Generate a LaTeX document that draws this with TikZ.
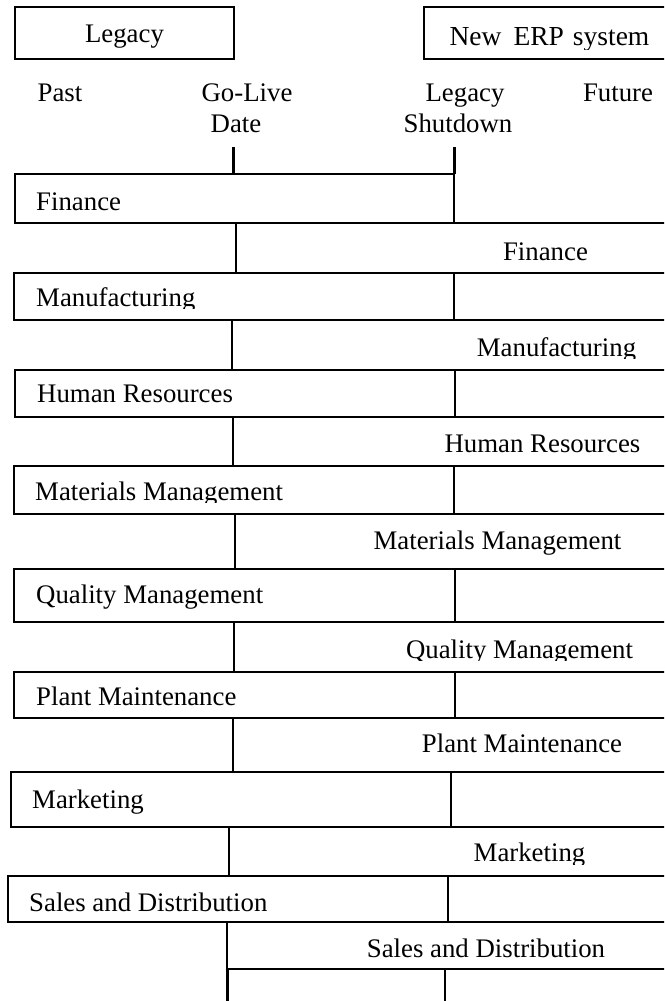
\documentclass[tikz,border=0pt]{standalone}
\usepackage{fontspec}
\setmainfont{Liberation Serif}
\begin{document}
\begin{tikzpicture}[x=1pt,y=-1pt,
  box/.style={draw=black,line width=1.4pt},
  tickline/.style={draw=black,line width=3pt},
  golive/.style={draw=black,line width=2.6pt},
  shut/.style={draw=black,line width=1.7pt},
  txt/.style={inner sep=0pt,font=\fontsize{26.8}{31}\selectfont},
  lt/.style={txt,anchor=base west},
  ct/.style={txt,anchor=base}]
\useasboundingbox (0,0) rectangle (664,1001);
\clip (0,0) rectangle (664,1001);

% headers
\draw[box] (15,7) rectangle (234,59);
\node[ct] (hdrL) at (124.5,42.5) {Legacy};
\draw[box] (680,7) -- (424,7) -- (424,59) -- (680,59);
\begin{scope}
  \clip (0,0) rectangle (664,49);
  \node[ct,font=\fontsize{27.5}{31}\selectfont] (hdrN) at (549.5,45.5) {New\hspace{12pt}ERP\hspace{9pt}system};
\end{scope}

% time labels
\node[ct] (past) at (60,101) {Past};
\node[ct] (gl1) at (247,101) {Go-Live};
\node[ct] (gl2) at (236,132) {Date};
\node[ct] (ls1) at (465,101) {Legacy};
\node[ct] (ls2) at (458,132) {Shutdown};
\node[ct] (future) at (618,101) {Future};

% rows
\foreach \lt/\lb/\lx/\rx/\nb/\gx in {
 174/223/15/454/273/236,
 273/320/14/454/370/232,
 370/417/15/455/466/233,
 466/514/14/454/569/235,
 569/622/14/455/672/234,
 672/718/14/455/772/233,
 772/827/11/451/876/229,
 876/922/8/448/969/227}
{
  \draw[box] (\rx,\lt) -- (\lx,\lt) -- (\lx,\lb) -- (\rx,\lb);
  \draw[box] (\gx,\lb) -- (680,\lb);
  \draw[box] (\gx,\nb) -- (680,\nb);
  \draw[shut] (\rx,\lt) -- (\rx,\lb);
  \draw[golive] (\gx,\lb) -- (\gx,\nb);
}

% ticks
\coordinate (t1a) at (233,147); \coordinate (t1b) at (233,174);
\coordinate (t2a) at (454,147); \coordinate (t2b) at (454,174);
\coordinate (b1a) at (227,969); \coordinate (b1b) at (227,1001);
\coordinate (b2a) at (445,969); \coordinate (b2b) at (445,1001);
\draw[tickline] (t1a) -- (t1b);
\draw[tickline] (t2a) -- (t2b);
\draw[tickline] (b1a) -- (b1b);
\draw[shut] (b2a) -- (b2b);

% row labels: legacy
\node[lt] (L1) at (36,210.5) {Finance};
\begin{scope}
  \clip (0,0) rectangle (664,308.5);
  \node[lt] (L2) at (36,306.5) {Manufacturing};
\end{scope}
\node[lt] (L3) at (37,402.5) {Human Resources};
\begin{scope}
  \clip (0,0) rectangle (664,502);
  \node[lt] (L4) at (35,500) {Materials Management};
\end{scope}
\node[lt] (L5) at (36,603) {Quality Management};
\node[lt] (L6) at (36,705) {Plant Maintenance};
\node[lt] (L7) at (32,808) {Marketing};
\node[lt] (L8) at (29,911) {Sales and Distribution};

% row labels: new system
\node[ct] (N1) at (545.5,260) {Finance};
\begin{scope}
  \clip (0,0) rectangle (664,358.5);
  \node[ct] (N2) at (556.5,356.5) {Manufacturing};
\end{scope}
\node[ct] (N3) at (542.5,452.5) {Human Resources};
\node[ct] (N4) at (497.5,549) {Materials Management};
\begin{scope}
  \clip (0,0) rectangle (664,660.5);
  \node[ct] (N5) at (519.5,658) {Quality Management};
\end{scope}
\node[ct] (N6) at (522,752) {Plant Maintenance};
\begin{scope}
  \clip (0,0) rectangle (664,864);
  \node[ct] (N7) at (529.5,861) {Marketing};
\end{scope}
\node[ct] (N8) at (486,957) {Sales and Distribution};
\end{tikzpicture}
\end{document}
